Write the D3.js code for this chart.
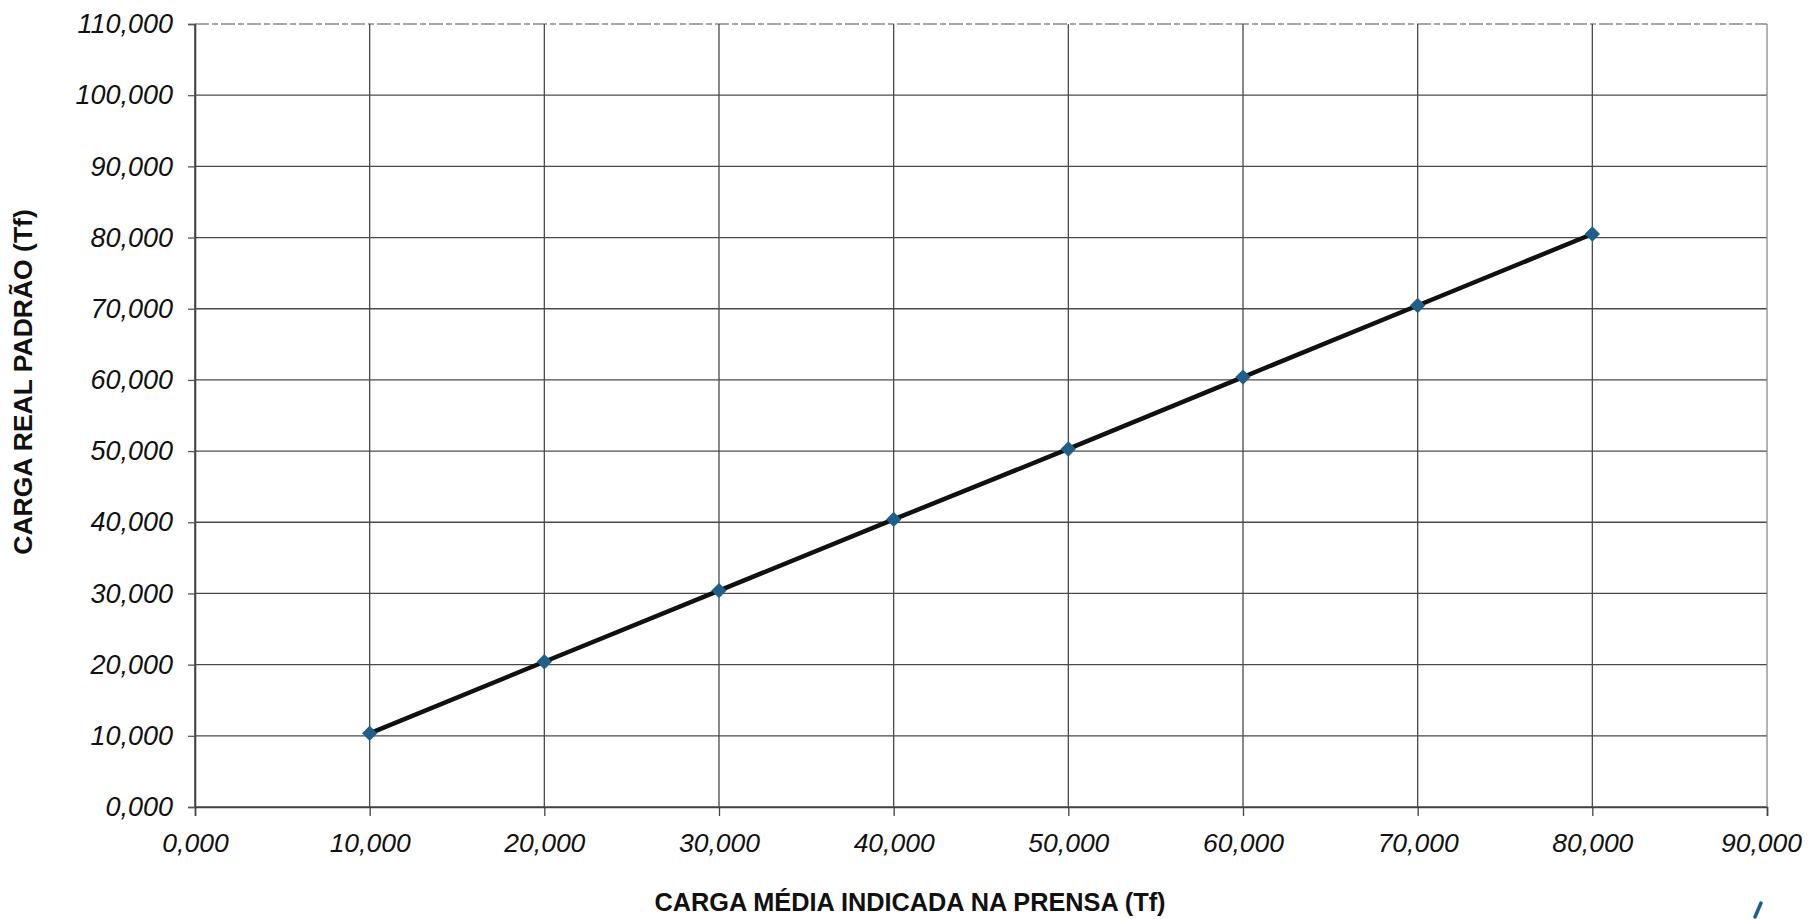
<!DOCTYPE html>
<html>
<head>
<meta charset="utf-8">
<script src="https://cdn.jsdelivr.net/npm/d3@7"></script>
<style>
  html, body { margin: 0; padding: 0; background: #ffffff; }
  svg { display: block; }
  text { font-family: "Liberation Sans", Arial, sans-serif; fill: #111; }
</style>
</head>
<body>
<svg id="chart" width="1808" height="919"></svg>
<script>
// ---- data ----
const cargaIndicada = [10000, 20000, 30000, 40000, 50000, 60000, 70000, 80000];
const cargaReal     = [10350, 20400, 30400, 40400, 50300, 60400, 70450, 80500];
const xTicks = [0, 10000, 20000, 30000, 40000, 50000, 60000, 70000, 80000, 90000];
const yTicks = [0, 10000, 20000, 30000, 40000, 50000, 60000, 70000, 80000, 90000, 100000, 110000];
const xTitle = "CARGA MÉDIA INDICADA NA PRENSA (Tf)";
const yTitle = "CARGA REAL PADRÃO (Tf)";

const fmt = v => d3.format(",.3f")(v / 1000).replace(".", ",");

const svg = d3.select("#chart");
const m = { left: 195, right: 1767, top: 24, bottom: 807 };

const x = d3.scaleLinear().domain([0, 90000]).range([m.left, m.right]);
const y = d3.scaleLinear().domain([0, 110000]).range([m.bottom, m.top]);

const gridColor = "#4a4a4a";

// gridlines
svg.append("g").selectAll("line.hg").data(yTicks).join("line")
  .attr("x1", m.left).attr("x2", m.right)
  .attr("y1", d => y(d)).attr("y2", d => y(d))
  .attr("stroke", d => d === 110000 ? "#8a8a8a" : gridColor)
  .attr("stroke-width", 1.3)
  .attr("stroke-dasharray", d => d === 110000 ? "14,3,6,3" : null);

svg.append("g").selectAll("line.vg").data(xTicks).join("line")
  .attr("x1", d => x(d)).attr("x2", d => x(d))
  .attr("y1", m.top).attr("y2", m.bottom)
  .attr("stroke", d => d === 90000 ? "#8a8a8a" : gridColor)
  .attr("stroke-width", d => d === 0 ? 1.6 : 1.3);

// x axis
const xAxis = d3.axisBottom(x).tickValues(xTicks).tickFormat(fmt).tickSize(9).tickPadding(17);
const gx = svg.append("g").attr("transform", `translate(0,${m.bottom})`).call(xAxis);
gx.select(".domain").attr("stroke", "#444").attr("stroke-width", 1.6);
gx.selectAll(".tick line").attr("stroke", "#444").attr("stroke-width", 1.3);
gx.selectAll(".tick text")
  .style("font-family", '"Liberation Sans", Arial, sans-serif')
  .style("font-style", "italic").style("font-size", "26.5px").attr("fill", "#111")
  .attr("dx", d => d === 90000 ? -6 : 0);

// y axis
const yAxis = d3.axisLeft(y).tickValues(yTicks).tickFormat(fmt).tickSize(7).tickPadding(15);
const gy = svg.append("g").attr("transform", `translate(${m.left},0)`).call(yAxis);
gy.select(".domain").attr("stroke", "#444").attr("stroke-width", 1.6);
gy.selectAll(".tick line").attr("stroke", "#555").attr("stroke-width", 1.3);
gy.selectAll(".tick text")
  .style("font-family", '"Liberation Sans", Arial, sans-serif')
  .style("font-style", "italic").style("font-size", "27px").attr("fill", "#111");

// line
const pts = cargaIndicada.map((v, i) => [v, cargaReal[i]]);
svg.append("path").datum(pts)
  .attr("fill", "none").attr("stroke", "#111").attr("stroke-width", 4.5)
  .attr("d", d3.line().x(d => x(d[0])).y(d => y(d[1])));

// markers
svg.append("g").selectAll("path").data(pts).join("path")
  .attr("transform", d => `translate(${x(d[0])},${y(d[1])})`)
  .attr("d", d3.symbol().type(d3.symbolDiamond2).size(150))
  .attr("fill", "#1f5f8b");

// titles
svg.append("text")
  .attr("x", 910).attr("y", 911)
  .attr("text-anchor", "middle")
  .style("font-weight", "bold").style("font-size", "25.3px")
  .text(xTitle);

svg.append("text")
  .attr("transform", `translate(32,382) rotate(-90)`)
  .attr("text-anchor", "middle")
  .style("font-weight", "bold").style("font-size", "26.5px")
  .text(yTitle);

// small blue pen stroke near bottom-right (scan artefact)
svg.append("path")
  .attr("d", "M1761,903 L1755,917")
  .attr("stroke", "#1f5f8b").attr("stroke-width", 3.5).attr("stroke-linecap", "round");
</script>
</body>
</html>
